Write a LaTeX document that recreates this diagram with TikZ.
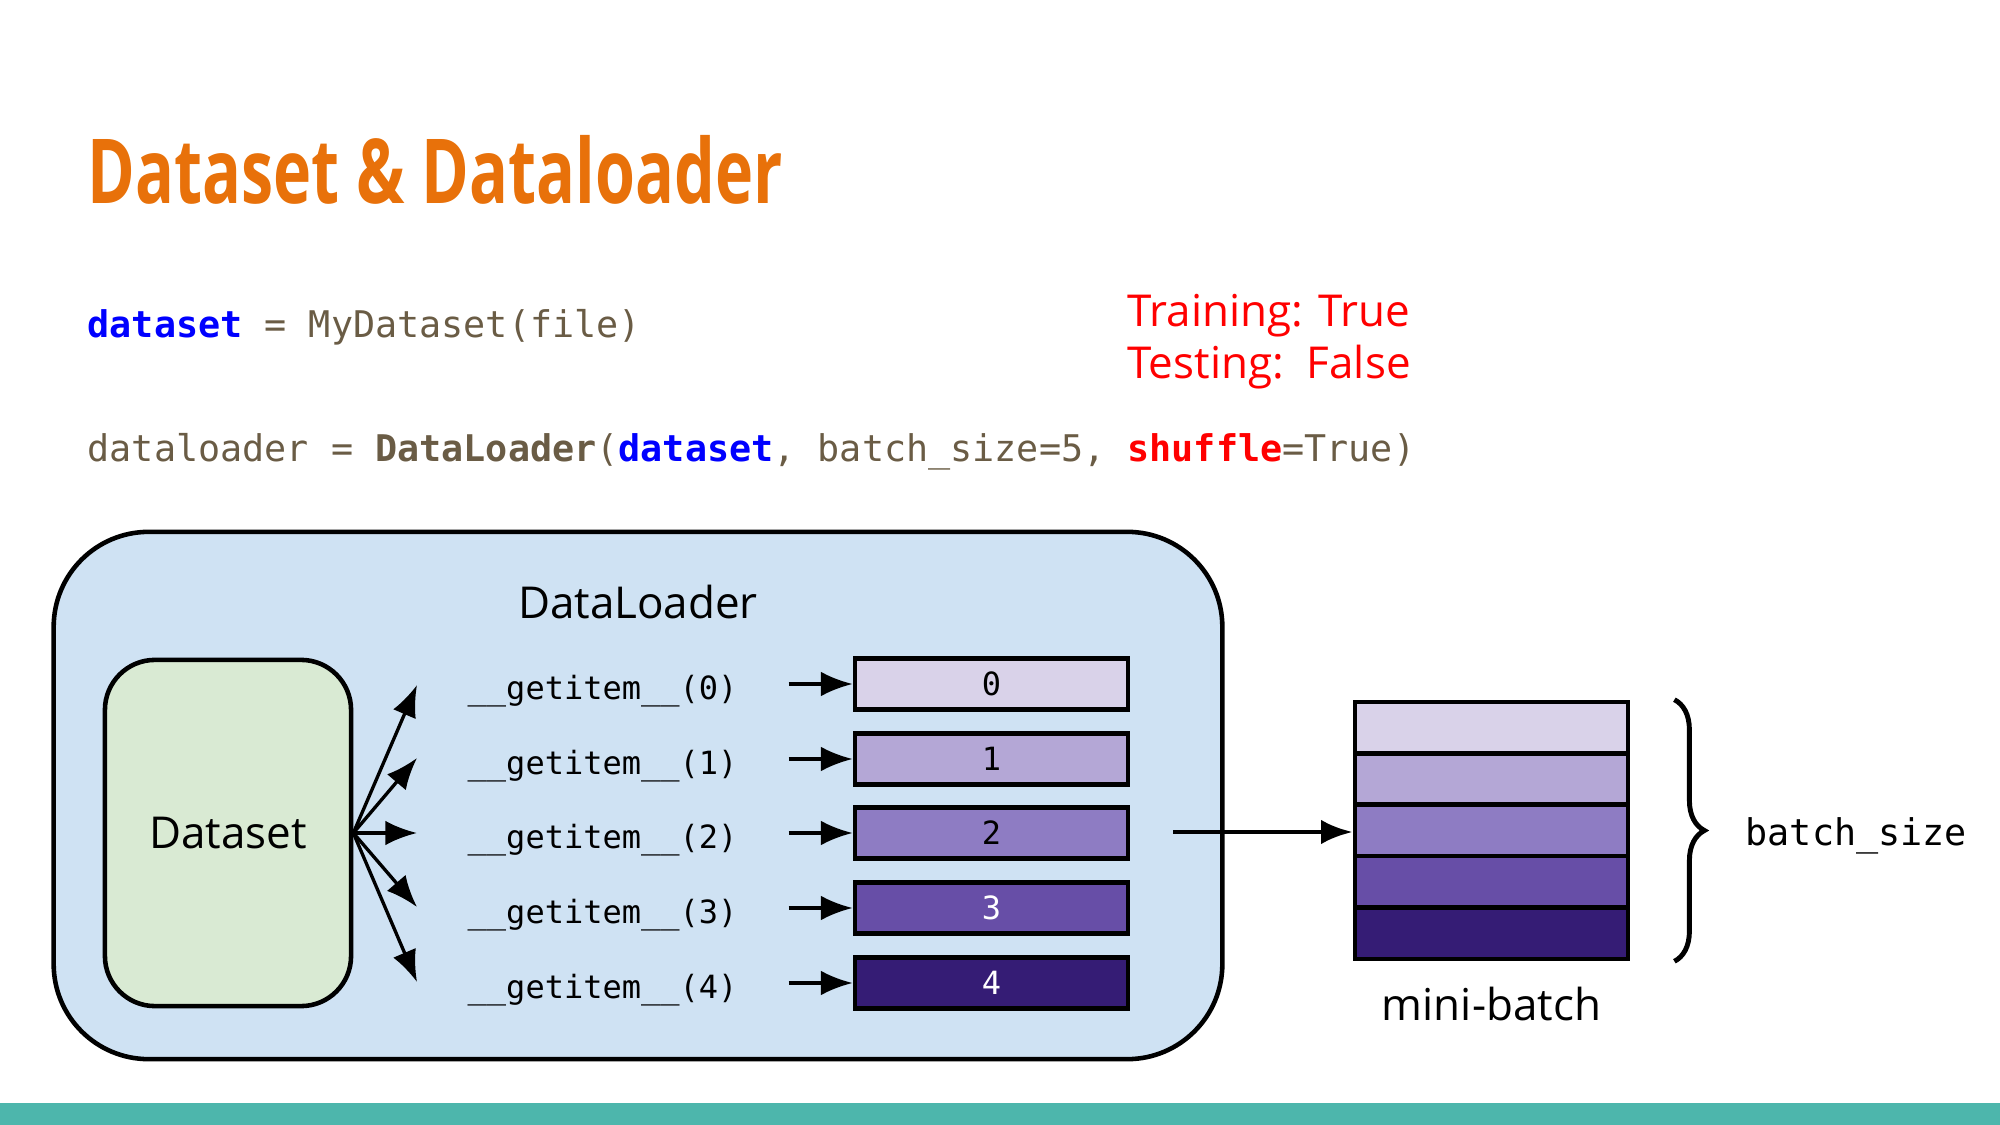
\documentclass[tikz,border=0pt]{standalone}
\usepackage{fontspec}
\setmainfont{Open Sans}
\newfontfamily\codefont{DejaVu Sans Mono}
\newfontfamily\titlefont{Open Sans}[FakeStretch=0.72]
\usetikzlibrary{arrows.meta,decorations.pathreplacing}
\definecolor{titleorange}{HTML}{E8710A}
\definecolor{codebrown}{HTML}{6A5C45}
\definecolor{loaderblue}{HTML}{CFE2F3}
\definecolor{setgreen}{HTML}{D9EAD3}
\definecolor{purpleA}{HTML}{D9D2E9}
\definecolor{purpleB}{HTML}{B4A7D6}
\definecolor{purpleC}{HTML}{8E7CC3}
\definecolor{purpleD}{HTML}{674EA7}
\definecolor{purpleE}{HTML}{351C75}
\definecolor{footteal}{HTML}{4DB6AC}
\tikzset{
  code/.style={font=\codefont\fontsize{10.45}{12}\selectfont,text=codebrown,anchor=base west,inner sep=0},
  txt/.style={font=\fontsize{12.5}{15}\selectfont,inner sep=0},
  getitem/.style={font=\codefont\fontsize{9.1}{11}\selectfont,anchor=west,inner sep=0,text width=3.2cm,align=left,text height=0.3cm,text depth=0cm},
  item/.style={draw,line width=1.3pt,minimum width=2.73cm,minimum height=0.51cm,inner sep=0,font=\codefont\fontsize{9.1}{11}\selectfont},
  slot/.style={draw,line width=1.3pt,minimum width=2.73cm,minimum height=0.514cm,inner sep=0},
  arr/.style={-{Latex[length=9pt,width=7pt]},line width=0.95pt}
}
\begin{document}
\begin{tikzpicture}[x=0.01cm,y=-0.01cm]
  \useasboundingbox (0,0) rectangle (2000,1125);
  \fill[footteal] (0,1103) rectangle (2000,1125);

  % title and code
  \node[anchor=base west,inner sep=0,text=titleorange,font=\titlefont\bfseries\fontsize{25.5}{30}\selectfont] (title) at (87,204) {Dataset \& Dataloader};
  \node[code] (line1) at (87,338) {\textcolor{blue}{\bfseries dataset} = MyDataset(file)};
  \node[code] (line2) at (87,462) {dataloader = {\bfseries DataLoader}(\textcolor{blue}{\bfseries dataset}, batch\_size=5, \textcolor{red}{\bfseries shuffle}=True)};
  \node[txt,anchor=base west,text=red] (train) at (1127,327) {Training: True};
  \node[txt,anchor=base west,text=red] (test) at (1127,379) {Testing:\ \ False};

  % dataloader box
  \node[draw,line width=1.3pt,fill=loaderblue,rounded corners=0.95cm,minimum width=11.68cm,minimum height=5.27cm] (loader) at (638,795.5) {};
  \node[txt,anchor=base] (loadername) at (638,619) {DataLoader};
  \node[draw,line width=1.3pt,fill=setgreen,rounded corners=0.5cm,minimum width=2.46cm,minimum height=3.46cm,txt] (ds) at (228,833) {Dataset};

  \begin{scope}[every node/.style={getitem}]
    \node (g0) at (467,684) {\_\_getitem\_\_(0)};
    \node (g1) at (467,759) {\_\_getitem\_\_(1)};
    \node (g2) at (467,833) {\_\_getitem\_\_(2)};
    \node (g3) at (467,908) {\_\_getitem\_\_(3)};
    \node (g4) at (467,983) {\_\_getitem\_\_(4)};
  \end{scope}
  \begin{scope}[every node/.style={item}]
    \node[fill=purpleA] (b0) at (991.5,684) {0};
    \node[fill=purpleB] (b1) at (991.5,759) {1};
    \node[fill=purpleC] (b2) at (991.5,833) {2};
    \node[fill=purpleD,text=white] (b3) at (991.5,908) {3};
    \node[fill=purpleE,text=white] (b4) at (991.5,983) {4};
  \end{scope}

  \coordinate (f0) at (417,685);
  \coordinate (f1) at (417,758);
  \coordinate (f2) at (417,833);
  \coordinate (f3) at (417,907);
  \coordinate (f4) at (417,982);
  \coordinate (out) at (1173,832);

  % mini-batch
  \begin{scope}[every node/.style={slot}]
    \node[fill=purpleA] (m0) at (1491.5,727.7) {};
    \node[fill=purpleB] (m1) at (1491.5,779.1) {};
    \node[fill=purpleC] (m2) at (1491.5,830.5) {};
    \node[fill=purpleD] (m3) at (1491.5,881.9) {};
    \node[fill=purpleE] (m4) at (1491.5,933.3) {};
  \end{scope}
  \node[txt,anchor=base] (mbname) at (1491.5,1020) {mini-batch};
  \node[code,text=black] (bsize) at (1745,845) {batch\_size};
  \draw[line width=1.4pt,decorate,decoration={brace,amplitude=0.3cm}] ([xshift=0.44cm]m0.north east) -- ([xshift=0.44cm]m4.south east);

  \begin{scope}[every edge/.style={draw=black,arr}]
    \path (ds.east) edge (f0);
    \path (ds.east) edge (f1);
    \path (ds.east) edge (f2);
    \path (ds.east) edge (f3);
    \path (ds.east) edge (f4);
    \path (g0) edge (b0);
    \path (g1) edge (b1);
    \path (g2) edge (b2);
    \path (g3) edge (b3);
    \path (g4) edge (b4);
    \path (out) edge[line width=1.4pt] (m2.west |- out);
  \end{scope}
\end{tikzpicture}
\end{document}
